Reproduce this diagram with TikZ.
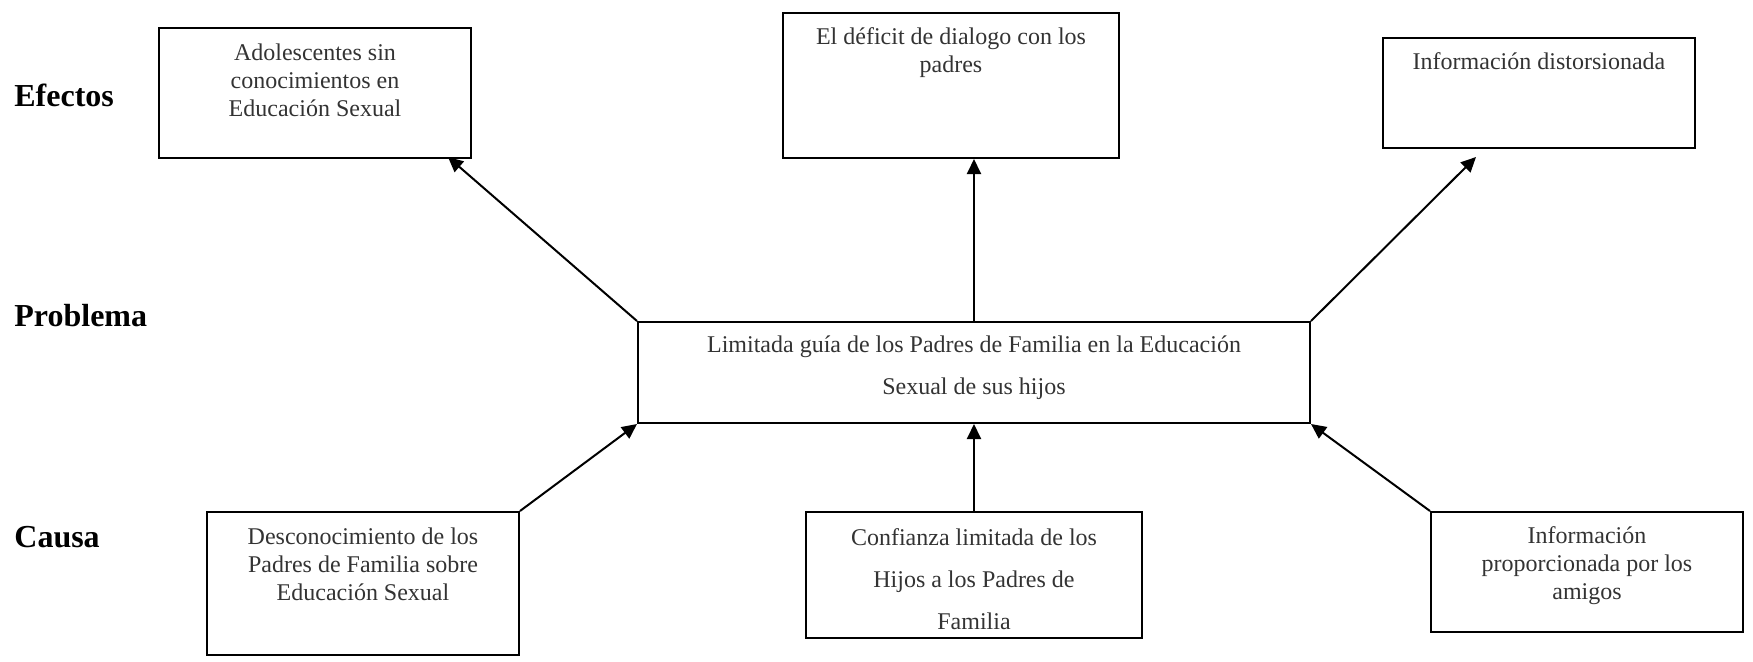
\documentclass[tikz,border=0pt]{standalone}
\usepackage{fontspec}
\setmainfont{Liberation Serif}
\usetikzlibrary{arrows.meta}
\tikzset{
  boxnode/.style={draw=black, line width=1pt, inner sep=0pt, rectangle},
  boxtext/.style={inner sep=0pt, align=center, text=black!80, font=\fontsize{12}{14}\selectfont},
  dbltext/.style={inner sep=0pt, align=center, text=black!80, font=\fontsize{12}{21}\selectfont},
  rowlabel/.style={inner sep=0pt, anchor=west, font=\fontsize{16}{18}\selectfont\bfseries},
  arr/.style={line width=1pt, -{Triangle[length=7.5pt,width=7pt]}}
}
\begin{document}
\begin{tikzpicture}[x=0.5pt,y=-0.5pt]
\useasboundingbox (0,0) rectangle (1753,661);
% row labels
\node[rowlabel] (lEf) at (14,95) {Efectos};
\node[rowlabel] (lPr) at (14,316) {Problema};
\node[rowlabel] (lCa) at (14,537) {Causa};
% boxes
\node[boxnode, minimum width=156pt, minimum height=65pt] (A) at (315,93) {};
\node[boxnode, minimum width=168pt, minimum height=72.5pt] (B) at (951,85.5) {};
\node[boxnode, minimum width=156pt, minimum height=55pt] (C) at (1539,93) {};
\node[boxnode, minimum width=336pt, minimum height=50.5pt] (ctr) at (974,372.5) {};
\node[boxnode, minimum width=156pt, minimum height=71.5pt] (D) at (363,583.5) {};
\node[boxnode, minimum width=168pt, minimum height=63pt] (E) at (974,575) {};
\node[boxnode, minimum width=156pt, minimum height=60pt] (F) at (1587,572) {};
% texts
\node[boxtext] (tA) at (315,80.5) {Adolescentes sin\\conocimientos en\\Educación Sexual};
\node[boxtext] (tB) at (951,52.5) {El déficit de dialogo con los\\padres};
\node[boxtext] (tC) at (1539,61.5) {Información distorsionada};
\node[dbltext] (tctr) at (974,368) {Limitada guía de los Padres de Familia en la Educación\\Sexual de sus hijos};
\node[boxtext] (tD) at (363,564.6) {Desconocimiento de los\\Padres de Familia sobre\\Educación Sexual};
\node[dbltext] (tE) at (974,579) {Confianza limitada de los\\Hijos a los Padres de\\Familia};
\node[boxtext] (tF) at (1587,565.7) {Información\\proporcionada por los\\amigos};
% arrow tips
\coordinate (tipA) at (448,157);
\coordinate (tipC) at (1476,157);
% connectors
\draw[arr] (ctr.north west) -- (tipA);
\draw[arr] (ctr.north) -- (ctr.north |- B.south);
\draw[arr] (ctr.north east) -- (tipC);
\draw[arr] (D.north east) -- (ctr.south west);
\draw[arr] (E.north) -- (E.north |- ctr.south);
\draw[arr] (F.north west) -- (ctr.south east);
\end{tikzpicture}
\end{document}
